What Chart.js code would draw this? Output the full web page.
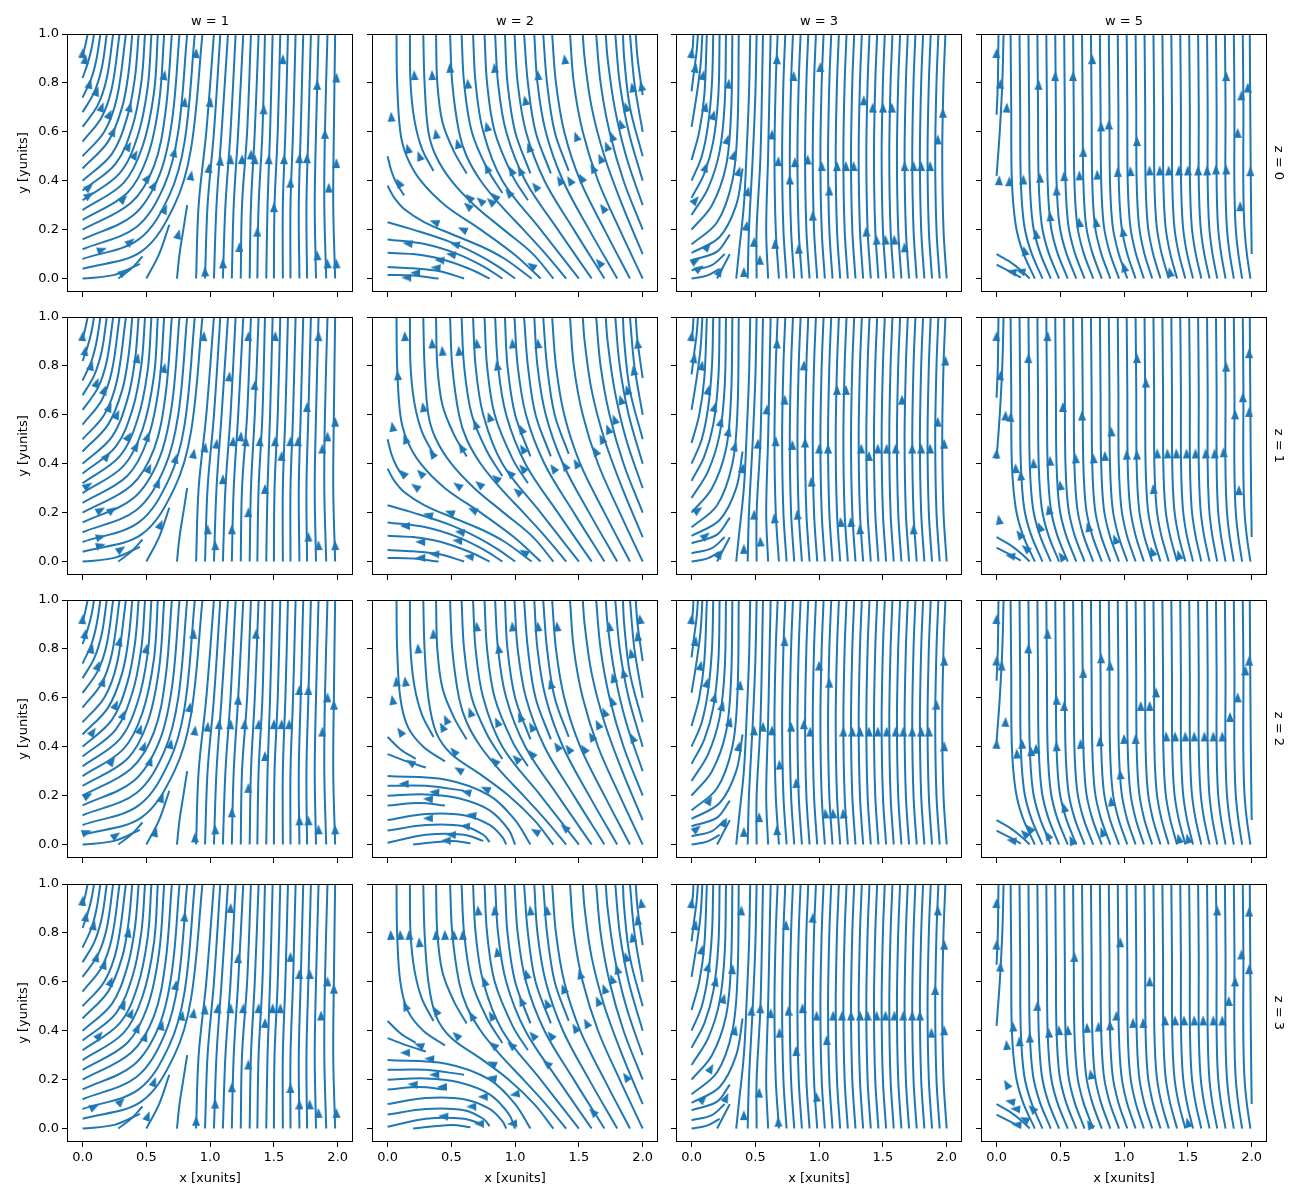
<!DOCTYPE html>
<html>
<head>
<meta charset="utf-8">
<script src="https://cdn.jsdelivr.net/npm/chart.js@4.4.1/dist/chart.umd.min.js"></script>
<style>
  body { margin: 0; background: #fff; width: 1300px; height: 1200px; position: relative; overflow: hidden; font-family: "DejaVu Sans", sans-serif; }
  canvas { position: absolute; }
  .lbl { position: absolute; font-size: 13px; color: #000; white-space: nowrap; transform-origin: center center; }
</style>
</head>
<body>
<script>
// Facet labels and ticks
const COL_TITLES = ['w = 1', 'w = 2', 'w = 3', 'w = 5'];
const ROW_TITLES = ['z = 0', 'z = 1', 'z = 2', 'z = 3'];
const X_TICKS = [0, 0.5, 1, 1.5, 2];
const Y_TICKS = [0, 0.2, 0.4, 0.6, 0.8, 1];
const X_LABEL = 'x [xunits]';
const Y_LABEL = 'y [yunits]';

// Streamlines, one flat [x,y, x,y, ...] list per line
const LINES_W1 = [
  [0,0.91, 0.02,0.95, 0.04,1],
  [0,0.82, 0.04,0.88, 0.07,0.94, 0.09,1],
  [0,0.74, 0.07,0.82, 0.11,0.9, 0.14,1],
  [0,0.68, 0.09,0.76, 0.15,0.86, 0.19,1],
  [0,0.62, 0.12,0.71, 0.19,0.82, 0.24,1],
  [0,0.56, 0.15,0.66, 0.23,0.78, 0.29,1],
  [0,0.5, 0.17,0.6, 0.27,0.74, 0.34,1],
  [0,0.45, 0.2,0.56, 0.31,0.7, 0.36,0.84, 0.39,1],
  [0,0.4, 0.23,0.51, 0.35,0.66, 0.41,0.82, 0.44,1],
  [0,0.36, 0.26,0.47, 0.39,0.62, 0.46,0.8, 0.49,1],
  [0,0.32, 0.29,0.43, 0.43,0.58, 0.51,0.78, 0.54,1],
  [0,0.28, 0.32,0.39, 0.47,0.54, 0.56,0.76, 0.59,1],
  [0,0.24, 0.35,0.35, 0.51,0.5, 0.6,0.72, 0.64,1],
  [0,0.2, 0.38,0.31, 0.56,0.46, 0.65,0.68, 0.7,1],
  [0,0.16, 0.4,0.26, 0.6,0.42, 0.7,0.64, 0.76,1],
  [0,0.12, 0.42,0.21, 0.64,0.38, 0.75,0.6, 0.82,1],
  [0,0.08, 0.44,0.16, 0.68,0.34, 0.8,0.56, 0.88,1],
  [0,0.04, 0.46,0.11, 0.72,0.3, 0.85,0.53, 0.94,1],
  [0,0, 0.25,0.015, 0.45,0.06],
  [0.28,0, 0.38,0.04, 0.47,0.09],
  [0.5,0, 0.6,0.1, 0.68,0.22],
  [0.74,0, 0.76,0.1, 0.79,0.2, 0.82,0.3],
  [0.89,0, 0.91,0.3, 0.97,0.6, 1.03,1],
  [0.96,0, 0.98,0.3, 1.03,0.6, 1.08,1],
  [1.03,0, 1.05,0.3, 1.09,0.6, 1.14,1],
  [1.1,0, 1.12,0.3, 1.16,0.6, 1.2,1],
  [1.17,0, 1.185,0.3, 1.22,0.6, 1.26,1],
  [1.24,0, 1.25,0.3, 1.29,0.6, 1.32,1],
  [1.31,0, 1.32,0.3, 1.35,0.6, 1.38,1],
  [1.37,0, 1.38,0.3, 1.41,0.6, 1.43,1],
  [1.44,0, 1.45,0.3, 1.47,0.6, 1.49,1],
  [1.5,0, 1.505,0.3, 1.53,0.6, 1.55,1],
  [1.57,0, 1.57,0.3, 1.59,0.6, 1.61,1],
  [1.63,0, 1.63,0.3, 1.65,0.6, 1.67,1],
  [1.7,0, 1.695,0.3, 1.71,0.6, 1.73,1],
  [1.76,0, 1.755,0.3, 1.77,0.6, 1.79,1],
  [1.83,0, 1.82,0.3, 1.83,0.6, 1.85,1],
  [1.91,0, 1.895,0.3, 1.9,0.6, 1.92,1],
  [1.98,0, 1.965,0.3, 1.97,0.6, 1.98,1]
];

const LINES_W2 = [
  [2,0.75, 1.96,0.9, 1.945,1],
  [2,0.6, 1.935,0.8, 1.9,1],
  [2,0.5, 1.9,0.7, 1.855,0.9, 1.845,1],
  [2,0.4, 1.89,0.6, 1.82,0.8, 1.785,1],
  [2,0.3, 1.87,0.5, 1.78,0.7, 1.725,0.9, 1.71,1],
  [2,0.2, 1.85,0.4, 1.74,0.6, 1.67,0.8, 1.635,1],
  [2,0.1, 1.84,0.3, 1.7,0.5, 1.6,0.7, 1.545,0.9, 1.53,1],
  [2,0, 1.82,0.2, 1.65,0.4, 1.53,0.6, 1.46,0.8, 1.43,1],
  [1.9,0, 1.7,0.2, 1.51,0.4, 1.385,0.6, 1.32,0.8, 1.29,1],
  [1.8,0, 1.58,0.2, 1.375,0.4, 1.24,0.6, 1.175,0.8, 1.15,1],
  [1.7,0, 1.46,0.2, 1.23,0.4, 1.085,0.6, 1.02,0.8, 0.995,1],
  [1.6,0, 1.335,0.2, 1.08,0.4, 0.93,0.6, 0.866,0.8, 0.843,1],
  [1.22,1, 1.25,0.8, 1.31,0.6, 1.42,0.44],
  [1.07,1, 1.1,0.8, 1.16,0.6, 1.28,0.43],
  [0.92,1, 0.94,0.8, 1.0,0.6, 1.12,0.43],
  [0.76,1, 0.78,0.8, 0.84,0.6, 0.98,0.42, 1.1,0.32],
  [0.58,1, 0.6,0.8, 0.66,0.6, 0.78,0.45, 0.9,0.35],
  [0.38,1, 0.39,0.8, 0.43,0.64, 0.52,0.52, 0.62,0.43],
  [0.175,1, 0.18,0.8, 0.21,0.65, 0.27,0.53, 0.36,0.44]
];

// lower part of w = 2, rows z = 0 and z = 1
const LINES_W2_LOW_A = [
  [1.5,0, 1.2,0.2, 0.9,0.4, 0.75,0.6, 0.69,0.8, 0.67,1],
  [1.4,0, 1.24,0.1, 1.065,0.2, 0.885,0.3, 0.73,0.4, 0.62,0.5, 0.56,0.6, 0.507,0.8, 0.49,1],
  [1.3,0, 1.14,0.1, 0.91,0.2, 0.68,0.3, 0.5,0.4, 0.38,0.5, 0.32,0.6, 0.29,0.8, 0.28,1],
  [1.2,0, 0.99,0.1, 0.73,0.2, 0.45,0.3, 0.26,0.4, 0.15,0.5, 0.1,0.6, 0.075,0.8, 0.07,1],
  [1.13,0, 0.92,0.08, 0.74,0.13, 0.51,0.18, 0.29,0.23, 0.14,0.28, 0.053,0.33, 0,0.38],
  [0,0.5, 0.03,0.44, 0.07,0.39, 0.13,0.34],
  [1,0, 0.865,0.05, 0.7,0.1, 0.49,0.15, 0.2,0.2, 0,0.23],
  [0.9,0, 0.75,0.05, 0.55,0.1, 0.3,0.14, 0,0.16],
  [0.8,0, 0.64,0.04, 0.42,0.08, 0.2,0.1, 0,0.105],
  [0.6,0, 0.41,0.03, 0.2,0.042, 0,0.047],
  [0.4,0, 0.2,0.012, 0,0.015]
];

// lower part of w = 2, rows z = 2 and z = 3
const LINES_W2_LOW_B = [
  [1.5,0, 1.2,0.2, 0.9,0.4, 0.75,0.6, 0.69,0.8, 0.67,1],
  [1.4,0, 1.24,0.1, 1.065,0.2, 0.885,0.3, 0.73,0.4, 0.62,0.5, 0.56,0.6, 0.507,0.8, 0.49,1],
  [1.3,0, 1.15,0.1, 0.95,0.2, 0.72,0.29, 0.5,0.37, 0.38,0.46, 0.32,0.6, 0.29,0.8, 0.28,1],
  [0.07,1, 0.075,0.8, 0.1,0.6, 0.16,0.48, 0.28,0.4, 0.45,0.34],
  [0,0.44, 0.1,0.39, 0.22,0.35],
  [0,0.37, 0.15,0.34, 0.3,0.315],
  [0,0.28, 0.46,0.265, 0.8,0.2, 1.0,0.1, 1.12,0],
  [0,0.24, 0.3,0.24, 0.6,0.22],
  [0,0.2, 0.3,0.205, 0.55,0.19, 0.8,0.14, 0.95,0.06, 1.0,0],
  [0,0.16, 0.25,0.17, 0.45,0.16],
  [0,0.1, 0.3,0.125, 0.6,0.12, 0.8,0.08, 0.9,0.03, 0.93,0],
  [0,0.057, 0.3,0.08, 0.6,0.075, 0.75,0.04, 0.8,0.01],
  [0,0.007, 0.3,0.04, 0.6,0.04, 0.75,0.015],
  [0.2,0, 0.5,0.015, 0.65,0.005]
];

const LINES_W3 = [
  [0,0.9, 0.01,0.95, 0.015,1],
  [0,0.765, 0.02,0.85, 0.04,0.93, 0.05,1],
  [0,0.62, 0.04,0.75, 0.07,0.87, 0.085,1],
  [0,0.485, 0.06,0.6, 0.1,0.75, 0.12,1],
  [0,0.4, 0.08,0.5, 0.13,0.63, 0.16,0.8, 0.17,1],
  [0,0.33, 0.1,0.43, 0.17,0.56, 0.21,0.75, 0.22,1],
  [0,0.26, 0.13,0.37, 0.22,0.52, 0.26,0.72, 0.27,1],
  [0,0.2, 0.16,0.3, 0.27,0.46, 0.31,0.68, 0.32,1],
  [0,0.14, 0.2,0.23, 0.32,0.4, 0.36,0.62, 0.37,1],
  [0,0.105, 0.22,0.17, 0.35,0.3, 0.4,0.45],
  [0,0.075, 0.2,0.11, 0.3,0.18],
  [0,0.034, 0.16,0.055, 0.26,0.1],
  [0,0, 0.12,0.012, 0.22,0.04],
  [0.2,0, 0.25,0.05, 0.3,0.1],
  [0.35,0, 0.37,0.1, 0.41,0.3, 0.43,0.5, 0.45,0.75, 0.46,1],
  [0.44,0, 0.45,0.2, 0.48,0.5, 0.5,0.75, 0.51,1],
  [0.51,0, 0.51,0.2, 0.54,0.5, 0.56,1],
  [0.6,0, 0.585,0.2, 0.6,0.5, 0.61,0.75, 0.62,1],
  [0.685,0, 0.66,0.2, 0.65,0.5, 0.66,0.8, 0.675,1],
  [0.745,0, 0.72,0.2, 0.71,0.5, 0.72,0.8, 0.735,1],
  [0.805,0, 0.78,0.2, 0.77,0.5, 0.78,0.8, 0.795,1],
  [0.865,0, 0.84,0.2, 0.83,0.5, 0.84,0.8, 0.855,1],
  [0.925,0, 0.9,0.2, 0.89,0.5, 0.9,0.8, 0.915,1],
  [0.985,0, 0.96,0.2, 0.95,0.5, 0.96,0.8, 0.975,1],
  [1.045,0, 1.02,0.2, 1.01,0.5, 1.02,0.8, 1.035,1],
  [1.105,0, 1.08,0.2, 1.07,0.5, 1.08,0.8, 1.095,1],
  [1.165,0, 1.14,0.2, 1.13,0.5, 1.14,0.8, 1.155,1],
  [1.225,0, 1.2,0.2, 1.19,0.5, 1.2,0.8, 1.215,1],
  [1.285,0, 1.26,0.2, 1.25,0.5, 1.26,0.8, 1.275,1],
  [1.345,0, 1.32,0.2, 1.31,0.5, 1.32,0.8, 1.335,1],
  [1.405,0, 1.38,0.2, 1.37,0.5, 1.38,0.8, 1.395,1],
  [1.465,0, 1.44,0.2, 1.43,0.5, 1.44,0.8, 1.455,1],
  [1.525,0, 1.5,0.2, 1.49,0.5, 1.5,0.8, 1.515,1],
  [1.585,0, 1.56,0.2, 1.55,0.5, 1.56,0.8, 1.575,1],
  [1.645,0, 1.62,0.2, 1.61,0.5, 1.62,0.8, 1.635,1],
  [1.705,0, 1.68,0.2, 1.67,0.5, 1.68,0.8, 1.695,1],
  [1.765,0, 1.74,0.2, 1.73,0.5, 1.74,0.8, 1.755,1],
  [1.825,0, 1.8,0.2, 1.79,0.5, 1.8,0.8, 1.815,1],
  [1.885,0, 1.86,0.2, 1.85,0.5, 1.86,0.8, 1.875,1],
  [1.945,0, 1.92,0.2, 1.91,0.5, 1.92,0.8, 1.935,1],
  [2.0,0, 1.975,0.2, 1.965,0.5, 1.975,0.8, 1.99,1]
];

const LINES_W5 = [
  [0,0.67, 0.01,0.8, 0.015,1],
  [0,0.42, 0.025,0.6, 0.045,0.8, 0.055,1],
  [0,0.1, 0.1,0.07, 0.2,0.03, 0.26,0],
  [0,0.057, 0.1,0.03, 0.19,0.004],
  [0.3,0, 0.205,0.11, 0.15,0.22, 0.12,0.4, 0.115,0.7, 0.11,1],
  [0.36,0, 0.27,0.11, 0.216,0.22, 0.19,0.4, 0.185,0.7, 0.18,1],
  [0.425,0, 0.338,0.11, 0.285,0.22, 0.26,0.4, 0.255,0.7, 0.25,1],
  [0.49,0, 0.405,0.11, 0.354,0.22, 0.33,0.4, 0.325,0.7, 0.32,1],
  [0.558,0, 0.474,0.11, 0.424,0.22, 0.4,0.4, 0.395,0.7, 0.39,1],
  [0.625,0, 0.543,0.11, 0.493,0.22, 0.47,0.4, 0.465,0.7, 0.46,1],
  [0.69,0, 0.61,0.11, 0.562,0.22, 0.54,0.4, 0.535,0.7, 0.53,1],
  [0.758,0, 0.679,0.11, 0.632,0.22, 0.61,0.4, 0.605,0.7, 0.6,1],
  [0.825,0, 0.748,0.11, 0.701,0.22, 0.68,0.4, 0.675,0.7, 0.67,1],
  [0.892,0, 0.816,0.11, 0.77,0.22, 0.75,0.4, 0.745,0.7, 0.74,1],
  [0.96,0, 0.885,0.11, 0.84,0.22, 0.82,0.4, 0.815,0.7, 0.81,1],
  [1.025,0, 0.953,0.11, 0.909,0.22, 0.889,0.4, 0.885,0.7, 0.88,1],
  [1.09,0, 1.02,0.11, 0.978,0.22, 0.958,0.4, 0.955,0.7, 0.95,1],
  [1.155,0, 1.088,0.11, 1.047,0.22, 1.028,0.4, 1.025,0.7, 1.02,1],
  [1.22,0, 1.155,0.11, 1.116,0.22, 1.098,0.4, 1.095,0.7, 1.09,1],
  [1.285,0, 1.223,0.11, 1.185,0.22, 1.168,0.4, 1.165,0.7, 1.16,1],
  [1.35,0, 1.29,0.11, 1.254,0.22, 1.237,0.4, 1.235,0.7, 1.23,1],
  [1.415,0, 1.358,0.11, 1.323,0.22, 1.307,0.4, 1.305,0.7, 1.3,1],
  [1.48,0, 1.425,0.11, 1.392,0.22, 1.377,0.4, 1.375,0.7, 1.37,1],
  [1.54,0, 1.49,0.11, 1.46,0.22, 1.446,0.4, 1.445,0.7, 1.44,1],
  [1.605,0, 1.558,0.11, 1.529,0.22, 1.516,0.4, 1.515,0.7, 1.51,1],
  [1.67,0, 1.625,0.11, 1.598,0.22, 1.585,0.4, 1.585,0.7, 1.58,1],
  [1.73,0, 1.69,0.11, 1.666,0.22, 1.655,0.4, 1.655,0.7, 1.65,1],
  [1.795,0, 1.758,0.11, 1.735,0.22, 1.725,0.4, 1.725,0.7, 1.72,1],
  [1.86,0, 1.825,0.11, 1.804,0.22, 1.794,0.4, 1.795,0.7, 1.79,1],
  [1.925,0, 1.893,0.11, 1.873,0.22, 1.864,0.4, 1.865,0.7, 1.86,1],
  [1.99,0, 1.96,0.11, 1.942,0.22, 1.934,0.4, 1.935,0.7, 1.93,1],
  [2.0,0.1, 1.995,0.3, 1.99,0.6, 1.985,1]
];

// Arrow heads, flat [x, y, rotation in degrees clockwise from up, ...]
const ARROWS_Z0_W1 = [0,0.92,5, 0.02,0.895,10, 0.055,0.795,15, 0.11,0.765,20, 0.15,0.7,20, 0.21,0.67,25, 0.24,0.6,25, 0.37,0.7,15, 0.64,0.83,10, 0.8,0.72,8, 0.89,0.92,5, 1.0,0.72,8, 0.36,0.54,30, 0.41,0.505,30, 0.72,0.515,15, 0.51,0.41,35, 0.56,0.38,30, 0.32,0.325,45, 0.05,0.373,50, 0.05,0.34,55, 0.645,0.283,25, 0.85,0.42,10, 0.99,0.45,5, 1.08,0.48,5, 1.16,0.486,3, 1.25,0.486,3, 1.32,0.505,3, 1.35,0.486,3, 1.46,0.486,2, 1.58,0.486,2, 1.7,0.49,2, 1.76,0.49,2, 1.42,0.69,3, 1.57,0.895,2, 1.84,0.79,2, 1.99,0.82,2, 1.9,0.59,0, 1.63,0.39,0, 1.5,0.29,0, 1.37,0.19,0, 1.23,0.127,0, 1.1,0.06,-2, 0.96,0.027,-3, 0.75,0.18,15, 0.375,0.15,50, 0.15,0.117,70, 0.32,0.025,55, 1.84,0.093,-3, 1.92,0.06,-3, 1.99,0.06,-2, 1.93,0.37,0, 1.99,0.47,0];
const ARROWS_Z0_W2 = [0.03,0.66,-3, 0.21,0.83,-3, 0.35,0.83,-3, 0.49,0.86,-3, 0.63,0.795,-5, 0.84,0.86,-5, 1.18,0.83,-5, 1.39,0.895,-7, 1.92,0.78,-12, 1.99,0.785,-12, 1.08,0.727,-12, 1.87,0.7,-15, 1.83,0.63,-17, 1.76,0.58,-20, 1.72,0.54,-22, 1.67,0.49,-25, 1.61,0.45,-28, 1.48,0.58,-20, 0.38,0.59,-10, 0.16,0.53,-15, 0.25,0.5,-20, 0.55,0.55,-15, 0.78,0.62,-15, 1.11,0.535,-20, 0.78,0.45,-25, 0.97,0.44,-28, 1.04,0.44,-28, 1.35,0.4,-32, 1.43,0.4,-32, 1.52,0.41,-30, 0.09,0.39,-30, 0.95,0.35,-40, 1.16,0.375,-38, 0.64,0.33,-45, 0.73,0.317,-48, 0.81,0.314,-48, 0.84,0.335,-45, 0.63,0.296,-50, 1.69,0.287,-35, 0.37,0.23,-70, 0.59,0.2,-65, 0.16,0.143,-85, 0.53,0.14,-75, 0.5,0.098,-80, 0.41,0.075,-85, 0.38,0.044,-85, 0.22,0.023,-88, 0.15,0.004,-90, 1.13,0.052,-55, 1.66,0.064,-40];
const ARROWS_Z0_W3 = [0,0.92,5, 0.03,0.86,10, 0.09,0.83,10, 0.29,0.795,5, 0.11,0.7,12, 0.17,0.667,15, 0.28,0.567,15, 0.33,0.503,15, 0.11,0.454,20, 0.37,0.437,15, 0.44,0.355,12, 0.03,0.32,40, 0.43,0.214,10, 0.125,0.13,40, 0.03,0.072,60, 0.06,0.041,55, 0.22,0.027,30, 0.41,0.025,0, 0.49,0.148,3, 0.535,0.075,0, 0.655,0.14,-2, 0.63,0.587,3, 0.67,0.895,3, 0.8,0.826,3, 1.01,0.863,2, 0.68,0.478,2, 0.77,0.403,0, 0.81,0.474,0, 0.91,0.485,0, 1.02,0.458,0, 1.14,0.458,0, 1.21,0.458,0, 1.27,0.458,0, 1.08,0.358,0, 0.95,0.255,-2, 0.84,0.12,-3, 1.35,0.727,0, 1.42,0.697,0, 1.5,0.697,0, 1.57,0.697,0, 1.67,0.458,0, 1.74,0.458,0, 1.8,0.458,0, 1.87,0.458,0, 1.93,0.567,0, 1.97,0.676,0, 1.37,0.19,-3, 1.45,0.157,-3, 1.52,0.157,-3, 1.59,0.157,-3, 1.67,0.126,-3];
const ARROWS_Z0_W5 = [0,0.92,3, 0.03,0.795,3, 0.08,0.697,3, 0.33,0.79,3, 0.46,0.826,2, 0.6,0.826,2, 0.75,0.895,0, 0.82,0.62,0, 0.88,0.628,0, 0.68,0.516,0, 1.1,0.56,0, 1.8,0.826,0, 1.92,0.747,0, 1.97,0.779,0, 1.89,0.594,0, 1.99,0.437,0, 0.02,0.4,3, 0.1,0.396,0, 0.21,0.403,0, 0.34,0.41,-2, 0.53,0.417,-2, 0.65,0.42,-2, 0.79,0.423,-2, 0.95,0.434,-2, 1.05,0.437,-2, 1.2,0.44,-2, 1.28,0.44,-2, 1.35,0.44,-2, 1.43,0.44,-2, 1.5,0.44,-2, 1.58,0.44,-2, 1.65,0.44,-2, 1.72,0.444,-2, 1.8,0.444,-2, 0.47,0.358,-3, 0.42,0.253,-5, 0.65,0.228,-8, 0.78,0.228,-8, 0.31,0.18,-8, 0.22,0.112,-15, 0.99,0.19,-10, 1.0,0.045,-15, 1.36,0.025,-12, 0.19,0.03,-75, 0.12,0.027,-80, 1.91,0.294,0];

const ARROWS_Z1_W1 = [0,0.92,5, 0.02,0.86,10, 0.067,0.8,15, 0.11,0.73,20, 0.17,0.7,20, 0.21,0.63,25, 0.27,0.6,25, 0.43,0.83,12, 0.64,0.79,10, 0.95,0.92,5, 1.3,0.92,3, 1.51,0.92,3, 1.85,0.92,2, 1.15,0.755,5, 1.35,0.72,5, 1.76,0.63,2, 1.98,0.57,0, 0.36,0.51,30, 0.42,0.47,30, 0.51,0.51,20, 0.19,0.43,40, 0.52,0.38,25, 0.73,0.42,15, 0.87,0.44,10, 0.96,0.465,8, 1.05,0.48,5, 1.18,0.49,5, 1.24,0.51,5, 1.28,0.49,3, 1.39,0.49,3, 1.51,0.49,2, 1.63,0.49,2, 1.69,0.49,2, 1.92,0.51,0, 1.88,0.46,0, 1.56,0.43,2, 1.43,0.295,0, 1.1,0.335,0, 0.59,0.32,20, 0.04,0.31,55, 0.14,0.21,60, 0.23,0.21,55, 0.61,0.15,25, 0.14,0.1,75, 0.14,0.065,75, 0.3,0.05,55, 0.98,0.13,0, 1.04,0.065,-2, 1.17,0.13,0, 1.3,0.2,0, 1.77,0.1,-2, 1.85,0.065,-2, 1.98,0.065,-2];
const ARROWS_Z1_W2 = [0.136,0.92,-3, 0.35,0.89,-3, 0.43,0.86,-5, 0.56,0.86,-5, 0.7,0.89,-5, 0.98,0.89,-5, 1.18,0.89,-5, 1.96,0.89,-8, 0.08,0.76,-5, 0.86,0.8,-10, 1.93,0.78,-10, 1.88,0.7,-15, 1.83,0.66,-17, 0.28,0.63,-10, 0.8,0.59,-20, 0.69,0.56,-20, 0.04,0.55,-10, 0.14,0.5,-20, 1.05,0.54,-25, 1.78,0.58,-20, 1.73,0.54,-22, 1.68,0.5,-25, 1.63,0.45,-28, 0.58,0.465,-30, 0.35,0.44,-35, 1.06,0.46,-30, 1.06,0.38,-40, 1.3,0.38,-35, 1.39,0.39,-32, 1.48,0.4,-30, 0.96,0.36,-45, 0.85,0.34,-50, 0.12,0.36,-45, 0.26,0.36,-45, 0.22,0.305,-55, 0.55,0.31,-55, 0.72,0.315,-50, 1.02,0.285,-50, 0.67,0.21,-65, 0.49,0.2,-70, 0.32,0.19,-75, 0.57,0.12,-80, 0.55,0.085,-85, 0.14,0.145,-90, 0.26,0.08,-88, 0.37,0.03,-88, 0.26,0.015,-90, 0.64,0.02,-82, 1.07,0.037,-60];
const ARROWS_Z1_W3 = [0,0.92,5, 0.02,0.83,10, 0.08,0.8,10, 0.13,0.7,12, 0.18,0.63,15, 0.23,0.57,15, 0.29,0.53,15, 0.34,0.47,15, 0.4,0.38,12, 0.67,0.89,3, 0.88,0.8,3, 0.59,0.62,5, 0.73,0.66,3, 0.52,0.48,3, 0.66,0.49,2, 0.79,0.475,0, 0.89,0.485,0, 1.0,0.46,0, 1.07,0.46,0, 1.14,0.7,0, 1.21,0.7,0, 1.39,0.43,0, 1.33,0.46,0, 1.46,0.46,0, 1.53,0.46,0, 1.6,0.46,0, 1.73,0.46,0, 1.8,0.46,0, 1.87,0.46,0, 1.98,0.48,0, 1.65,0.66,0, 1.93,0.57,0, 1.99,0.82,0, 0.94,0.325,-3, 0.83,0.19,-5, 0.65,0.175,-5, 0.49,0.19,0, 0.05,0.21,55, 0.11,0.105,50, 0.22,0.03,30, 0.41,0.05,0, 0.54,0.08,-3, 1.17,0.16,-5, 1.25,0.16,-5, 1.32,0.13,-5, 1.74,0.13,-3];
const ARROWS_Z1_W5 = [0,0.92,3, 0.4,0.92,3, 0.03,0.76,5, 0.25,0.83,3, 1.1,0.83,0, 1.17,0.73,0, 1.8,0.795,0, 1.98,0.85,0, 1.93,0.67,0, 1.87,0.6,0, 1.98,0.61,0, 0.07,0.595,3, 0.11,0.59,3, 0.52,0.63,0, 0.67,0.595,-2, 0.9,0.53,-2, 0,0.44,3, 0.15,0.38,-3, 0.19,0.35,-5, 0.29,0.4,-3, 0.42,0.41,-3, 0.62,0.42,-3, 0.76,0.42,-3, 0.85,0.43,-2, 1.02,0.435,-2, 1.1,0.435,-2, 1.26,0.44,-2, 1.34,0.44,-2, 1.41,0.44,-2, 1.49,0.44,-2, 1.56,0.44,-2, 1.64,0.44,-2, 1.71,0.44,-2, 1.78,0.445,-2, 0.5,0.31,-8, 0.41,0.21,-12, 0.34,0.14,-20, 0.02,0.17,-10, 0.18,0.11,-35, 0.23,0.053,-50, 0.11,0.023,-80, 0.51,0.02,-35, 0.72,0.14,-15, 0.93,0.09,-20, 1.23,0.295,-5, 1.22,0.04,-20, 1.43,0.026,-15, 1.9,0.29,0];

const ARROWS_Z2_W1 = [0,0.92,5, 0.02,0.86,10, 0.07,0.8,15, 0.12,0.73,20, 0.16,0.665,20, 0.29,0.83,12, 0.5,0.8,10, 0.26,0.57,25, 0.32,0.53,25, 0.08,0.46,35, 0.45,0.47,20, 0.48,0.4,20, 0.23,0.34,35, 0.53,0.34,18, 0.69,0.41,12, 0.04,0.2,60, 0.03,0.05,70, 0.26,0.037,55, 0.62,0.19,20, 0.57,0.05,15, 0.87,0.86,5, 1.36,0.86,3, 0.84,0.56,10, 0.88,0.465,8, 0.98,0.48,5, 1.07,0.49,5, 1.16,0.49,4, 1.27,0.49,3, 1.38,0.49,3, 1.5,0.49,2, 1.56,0.49,2, 1.62,0.49,2, 1.22,0.59,3, 1.7,0.63,0, 1.77,0.63,0, 1.92,0.6,0, 1.97,0.57,0, 1.88,0.46,0, 1.43,0.36,0, 1.3,0.23,0, 1.17,0.13,0, 1.04,0.06,-2, 0.88,0.027,0, 1.7,0.097,-2, 1.77,0.097,-2, 1.85,0.06,-2, 1.98,0.06,-2];
const ARROWS_Z2_W2 = [0.36,0.86,-3, 0.7,0.89,-5, 0.98,0.89,-5, 1.18,0.89,-5, 1.33,0.89,-5, 1.74,0.89,-7, 1.98,0.92,-8, 1.96,0.85,-10, 0.24,0.8,-5, 0.87,0.8,-10, 1.91,0.78,-12, 0.07,0.665,-5, 0.14,0.665,-7, 1.28,0.655,-15, 1.77,0.68,-15, 1.85,0.7,-15, 0.04,0.59,-10, 1.76,0.585,-20, 1.7,0.54,-23, 1.65,0.49,-26, 1.6,0.44,-30, 1.92,0.435,-25, 0.46,0.51,-25, 0.43,0.48,-28, 0.65,0.54,-20, 0.86,0.5,-25, 1.04,0.52,-25, 1.13,0.48,-28, 0.1,0.46,-35, 0.52,0.38,-40, 0.84,0.34,-45, 1.01,0.35,-45, 1.13,0.37,-40, 1.33,0.4,-35, 1.42,0.39,-35, 1.54,0.39,-33, 0.18,0.335,-60, 0.56,0.305,-60, 0.77,0.227,-65, 0.62,0.214,-75, 0.37,0.214,-85, 0.32,0.186,-85, 0.13,0.248,-90, 0.66,0.12,-80, 0.61,0.075,-85, 0.32,0.107,-90, 0.5,0.04,-88, 0.46,0.016,-90, 1.16,0.053,-60, 1.39,0.068,-50];
const ARROWS_Z2_W3 = [0,0.92,5, 0.03,0.83,10, 0.07,0.73,12, 0.12,0.66,15, 0.18,0.6,15, 0.24,0.565,15, 0.3,0.5,15, 0.37,0.4,12, 0.38,0.65,5, 0.73,0.83,3, 1.0,0.73,0, 1.08,0.66,0, 0.49,0.465,3, 0.56,0.48,3, 0.63,0.465,2, 0.78,0.48,0, 0.88,0.49,0, 0.93,0.46,0, 1.19,0.46,0, 1.26,0.46,0, 1.32,0.46,0, 1.39,0.46,0, 1.46,0.46,0, 1.53,0.46,0, 1.6,0.46,0, 1.66,0.46,0, 1.73,0.46,0, 1.8,0.46,0, 1.86,0.46,0, 1.92,0.57,0, 1.98,0.75,0, 1.98,0.4,0, 0.69,0.325,-3, 0.82,0.25,-3, 0.14,0.18,30, 0.26,0.09,25, 0.04,0.064,50, 0.53,0.11,0, 0.41,0.05,0, 0.67,0.057,-3, 1.05,0.125,-5, 1.11,0.125,-5, 1.19,0.125,-5];
const ARROWS_Z2_W5 = [0,0.92,3, 0,0.75,3, 0.04,0.73,3, 0.25,0.8,3, 0.4,0.86,2, 0.82,0.76,0, 0.89,0.73,0, 0.68,0.7,0, 0.47,0.59,0, 0.53,0.565,0, 1.25,0.62,0, 1.13,0.565,0, 1.2,0.565,0, 1.89,0.6,0, 1.95,0.71,0, 1.98,0.75,0, 1.83,0.52,0, 0.07,0.5,3, 0,0.41,3, 0.2,0.41,-3, 0.16,0.37,-3, 0.27,0.38,-3, 0.31,0.39,-3, 0.47,0.4,-3, 0.66,0.41,-3, 0.81,0.42,-3, 1.0,0.43,-2, 1.09,0.43,-2, 1.33,0.44,-2, 1.4,0.44,-2, 1.48,0.44,-2, 1.55,0.44,-2, 1.63,0.44,-2, 1.7,0.44,-2, 1.77,0.44,-2, 0.97,0.285,-5, 0.9,0.175,-8, 0.53,0.15,-15, 0.26,0.064,-40, 0.22,0.044,-45, 0.12,0.016,-80, 0.4,0.037,-30, 0.59,0.016,-25, 0.83,0.05,-20, 1.43,0.023,-15, 1.5,0.023,-15];

const ARROWS_Z3_W1 = [0,0.93,5, 0.026,0.865,10, 0.087,0.83,12, 0.11,0.7,15, 0.17,0.67,20, 0.22,0.6,20, 0.36,0.8,12, 0.8,0.865,5, 1.16,0.9,3, 1.22,0.695,3, 0.73,0.585,10, 0.32,0.505,25, 0.38,0.47,25, 0.13,0.38,40, 0.43,0.41,22, 0.49,0.375,20, 0.62,0.42,15, 0.78,0.46,10, 0.87,0.47,8, 0.96,0.485,5, 1.06,0.49,4, 1.16,0.49,3, 1.26,0.49,3, 1.38,0.49,2, 1.49,0.49,2, 1.55,0.49,2, 1.43,0.43,2, 1.63,0.7,0, 1.7,0.63,0, 1.78,0.63,0, 1.92,0.6,0, 1.97,0.57,0, 1.87,0.46,0, 1.3,0.26,0, 1.17,0.167,0, 1.04,0.1,0, 0.89,0.03,0, 0.56,0.19,20, 0.3,0.11,45, 0.09,0.088,65, 0.51,0.05,20, 1.63,0.164,0, 1.7,0.097,0, 1.78,0.097,0, 1.85,0.062,-2, 1.99,0.062,-2];
const ARROWS_Z3_W2 = [0.026,0.79,-3, 0.1,0.79,-3, 0.17,0.79,-3, 0.38,0.79,-3, 0.45,0.79,-3, 0.52,0.79,-3, 0.59,0.79,-3, 0.25,0.76,-5, 0.71,0.89,-5, 0.84,0.89,-5, 1.12,0.89,-5, 1.25,0.89,-5, 1.99,0.92,-8, 1.96,0.85,-10, 1.92,0.78,-12, 1.87,0.7,-15, 1.8,0.65,-17, 1.76,0.61,-18, 1.7,0.57,-20, 1.65,0.52,-23, 1.56,0.43,-28, 1.47,0.41,-30, 1.51,0.63,-15, 1.38,0.57,-20, 1.25,0.51,-25, 0.86,0.72,-10, 1.09,0.63,-15, 1.05,0.52,-25, 0.76,0.6,-18, 0.14,0.5,-25, 0.38,0.48,-30, 0.66,0.46,-30, 0.815,0.46,-30, 0.54,0.38,-45, 0.83,0.34,-50, 0.97,0.34,-50, 1.14,0.38,-40, 1.28,0.38,-38, 1.25,0.265,-50, 0.82,0.265,-65, 0.25,0.34,-70, 0.14,0.31,-90, 0.33,0.285,-85, 0.37,0.22,-90, 0.82,0.206,-80, 0.2,0.18,-85, 0.43,0.17,-90, 0.75,0.13,-90, 1.0,0.14,-100, 0.66,0.09,-90, 0.44,0.05,-85, 0.72,0.02,-90, 0.98,0.02,-95, 1.61,0.067,-45, 1.87,0.21,-35];
const ARROWS_Z3_W3 = [0,0.92,5, 0.03,0.83,10, 0.08,0.73,12, 0.13,0.66,15, 0.19,0.6,15, 0.25,0.53,15, 0.34,0.4,12, 0.32,0.65,5, 0.39,0.89,3, 0.74,0.83,3, 0.95,0.86,3, 0.47,0.48,3, 0.54,0.49,3, 0.62,0.47,2, 0.76,0.48,0, 0.87,0.49,0, 0.69,0.39,-2, 0.82,0.315,-3, 0.98,0.46,0, 1.11,0.46,0, 1.18,0.46,0, 1.25,0.46,0, 1.32,0.46,0, 1.38,0.46,0, 1.45,0.46,0, 1.52,0.46,0, 1.59,0.46,0, 1.66,0.46,0, 1.73,0.46,0, 1.79,0.46,0, 1.06,0.36,-2, 1.88,0.39,0, 1.98,0.4,0, 1.91,0.565,0, 1.98,0.75,0, 1.93,0.89,0, 0.15,0.245,30, 0.09,0.12,45, 0.27,0.125,25, 0.53,0.145,3, 0.41,0.053,0, 0.68,0.026,-3, 0.98,0.128,-5];
const ARROWS_Z3_W5 = [0,0.92,3, 0,0.75,3, 0.03,0.66,3, 0.97,0.76,0, 0.61,0.7,0, 1.2,0.6,0, 1.73,0.89,0, 1.98,0.885,0, 1.92,0.71,0, 1.98,0.65,0, 1.87,0.6,0, 1.82,0.52,0, 0.32,0.5,0, 0.13,0.415,-3, 0.08,0.34,-5, 0.18,0.355,-3, 0.26,0.37,-3, 0.41,0.39,-3, 0.49,0.4,-3, 0.56,0.4,-3, 0.71,0.41,-3, 0.8,0.415,-2, 0.89,0.42,-2, 0.94,0.46,0, 1.07,0.43,-2, 1.15,0.43,-2, 1.32,0.44,-2, 1.4,0.44,-2, 1.47,0.44,-2, 1.55,0.44,-2, 1.62,0.44,-2, 1.7,0.44,-2, 1.77,0.44,-2, 0.74,0.22,-10, 0.08,0.18,-30, 0.11,0.11,-80, 0.15,0.08,-85, 0.28,0.08,-45, 0.22,0.037,-65, 0.16,0.016,-85, 0.73,0.016,-30, 1.5,0.023,-15];

const ARROWS = [
  [ARROWS_Z0_W1, ARROWS_Z0_W2, ARROWS_Z0_W3, ARROWS_Z0_W5],
  [ARROWS_Z1_W1, ARROWS_Z1_W2, ARROWS_Z1_W3, ARROWS_Z1_W5],
  [ARROWS_Z2_W1, ARROWS_Z2_W2, ARROWS_Z2_W3, ARROWS_Z2_W5],
  [ARROWS_Z3_W1, ARROWS_Z3_W2, ARROWS_Z3_W3, ARROWS_Z3_W5]
];

// Layout of the grid (pixels)
const AX_LEFT = [67, 372, 676, 981];
const AX_TOP = [34, 317, 600, 884];
const AX_W = 286, AX_H = 258;
const PAD_L = 45, PAD_R = 12, PAD_T = 12, PAD_B = 32;
const BLUE = '#1f77b4';

// Slim arrow head drawn once, used as the point style (points up, the chart rotates it)
const arrowHead = (() => {
  const cv = document.createElement('canvas');
  cv.width = 8; cv.height = 11;
  const g = cv.getContext('2d');
  g.fillStyle = BLUE;
  g.beginPath();
  g.moveTo(4, 0);
  g.lineTo(8, 10);
  g.lineTo(0, 10);
  g.closePath();
  g.fill();
  return cv;
})();

function linesFor(r, c) {
  if (c === 0) return LINES_W1;
  if (c === 1) return LINES_W2.concat(r < 2 ? LINES_W2_LOW_A : LINES_W2_LOW_B);
  if (c === 2) return LINES_W3;
  return LINES_W5;
}

function toPoints(flat, step) {
  const pts = [];
  for (let i = 0; i < flat.length; i += step) pts.push({ x: flat[i], y: flat[i + 1] });
  return pts;
}

// Full box round each axes
const boxPlugin = {
  id: 'box',
  afterDraw(chart) {
    const { ctx, chartArea: a } = chart;
    ctx.save();
    ctx.strokeStyle = '#000';
    ctx.lineWidth = 1;
    ctx.strokeRect(Math.round(a.left) + 0.5, Math.round(a.top) + 0.5, Math.round(a.right - a.left) - 1, Math.round(a.bottom - a.top) - 1);
    ctx.restore();
  }
};

function addLabel(text, x, y, rot) {
  const d = document.createElement('div');
  d.className = 'lbl';
  d.textContent = text;
  d.style.left = x + 'px';
  d.style.top = y + 'px';
  d.style.transform = 'translate(-50%, -50%)' + (rot ? ' rotate(' + rot + 'deg)' : '');
  document.body.appendChild(d);
}

function renderPanel(r, c) {
  const canvas = document.createElement('canvas');
  const w = AX_W + PAD_L + PAD_R, h = AX_H + PAD_T + PAD_B;
  canvas.width = w; canvas.height = h;
  canvas.style.width = w + 'px'; canvas.style.height = h + 'px';
  canvas.style.left = (AX_LEFT[c] - PAD_L) + 'px';
  canvas.style.top = (AX_TOP[r] - PAD_T) + 'px';
  document.body.appendChild(canvas);

  const datasets = linesFor(r, c).map(line => ({
    data: toPoints(line, 2),
    showLine: true,
    borderColor: BLUE,
    borderWidth: 2,
    tension: 0.35,
    pointRadius: 0,
    fill: false
  }));

  const arr = ARROWS[r][c];
  const rot = [];
  for (let i = 2; i < arr.length; i += 3) rot.push(arr[i]);
  datasets.push({
    data: toPoints(arr, 3),
    showLine: false,
    pointStyle: arrowHead,
    pointRadius: 5,
    rotation: rot,
    backgroundColor: BLUE,
    borderColor: BLUE,
    borderWidth: 0
  });

  const tickFont = { family: 'DejaVu Sans', size: 13 };

  new Chart(canvas.getContext('2d'), {
    type: 'scatter',
    data: { datasets },
    options: {
      responsive: false,
      animation: false,
      devicePixelRatio: 1,
      events: [],
      layout: { padding: { top: PAD_T, right: PAD_R, left: 0, bottom: 0 } },
      plugins: { legend: { display: false }, tooltip: { enabled: false } },
      scales: {
        x: {
          type: 'linear', min: -0.122, max: 2.12,
          afterBuildTicks: s => { s.ticks = X_TICKS.map(v => ({ value: v })); },
          afterFit: s => { s.height = PAD_B; },
          grid: { display: true, drawOnChartArea: false, drawTicks: true, tickLength: 5, color: '#000', lineWidth: 1 },
          border: { display: false },
          ticks: { display: r === 3, color: '#000', font: tickFont, padding: 3, maxRotation: 0, autoSkip: false, callback: v => v.toFixed(1) }
        },
        y: {
          type: 'linear', min: -0.055, max: 1.0,
          afterBuildTicks: s => { s.ticks = Y_TICKS.map(v => ({ value: v })); },
          afterFit: s => { s.width = PAD_L; },
          grid: { display: true, drawOnChartArea: false, drawTicks: true, tickLength: 5, color: '#000', lineWidth: 1 },
          border: { display: false },
          ticks: { display: c === 0, color: '#000', font: tickFont, padding: 3, autoSkip: false, callback: v => v.toFixed(1) }
        }
      }
    },
    plugins: [boxPlugin]
  });
}

for (let r = 0; r < 4; r++) {
  for (let c = 0; c < 4; c++) renderPanel(r, c);
}

// Facet titles and axis labels
COL_TITLES.forEach((t, c) => addLabel(t, AX_LEFT[c] + AX_W / 2, 20, 0));
ROW_TITLES.forEach((t, r) => addLabel(t, 1279, AX_TOP[r] + AX_H / 2, 90));
AX_TOP.forEach(top => addLabel(Y_LABEL, 22, top + AX_H / 2, -90));
AX_LEFT.forEach(left => addLabel(X_LABEL, left + AX_W / 2, 1177, 0));
</script>
</body>
</html>
